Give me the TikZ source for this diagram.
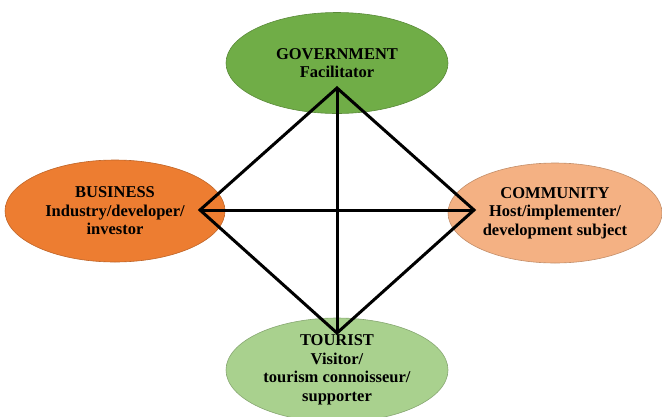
\documentclass[tikz,border=0pt]{standalone}
\usepackage{fontspec}
\setmainfont{Liberation Serif}
\usepackage{xcolor}
\usetikzlibrary{shapes.geometric,calc}

\definecolor{govgreen}{HTML}{70AD47}
\definecolor{busorange}{HTML}{ED7D31}
\definecolor{compeach}{HTML}{F4B183}
\definecolor{tourgreen}{HTML}{A9D18E}

\begin{document}
\begin{tikzpicture}[
x=1pt, y=-1pt,
actor/.style={ellipse, draw=#1!80!black, fill=#1, line width=0.6pt, align=center,
  minimum width=222pt, minimum height=101pt, inner sep=0pt,
  font=\fontsize{16.5}{18.5}\selectfont\bfseries},
link/.style={line width=3pt, line join=miter, line cap=butt}
]
\useasboundingbox (0,0) rectangle (662,416);

\node[actor=govgreen] (gov) at (337,63) {GOVERNMENT\\Facilitator};
\node[actor=busorange, minimum width=220pt, minimum height=102pt] (bus) at (115,211) {BUSINESS\\Industry/developer/\\investor};
\node[actor=compeach, minimum width=214pt, minimum height=100pt] (com) at (555,213) {COMMUNITY\\Host/implementer/\\development subject};
\node[actor=tourgreen, minimum height=104pt] (tour) at (337,370) {TOURIST\\Visitor/\\tourism connoisseur/\\supporter};

% corners of the linking diamond
\coordinate (g) at ([yshift=-25pt]gov.center);
\coordinate (b) at ([xshift=85pt,yshift=1pt]bus.center);
\coordinate (c) at ([xshift=-81pt,yshift=3pt]com.center);
\coordinate (t) at ([yshift=37pt]tour.center);

\draw[link] (g) -- (b) -- (t) -- (c) -- cycle;
\draw[link] (g) -- (t);
\draw[link] (b) -- (c);
\end{tikzpicture}
\end{document}
